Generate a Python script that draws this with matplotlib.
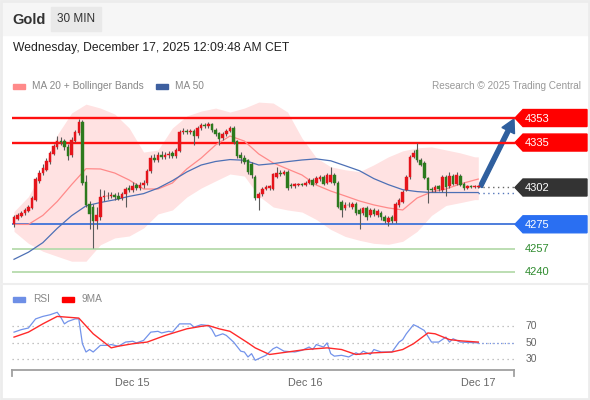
import matplotlib
matplotlib.use("Agg")
import matplotlib.pyplot as plt
from matplotlib.patches import Rectangle, Polygon, FancyArrow

plt.rcParams['font.family'] = ['Liberation Sans', 'DejaVu Sans']

# ---------------- data ----------------
title = "Gold"
timeframe = "30 MIN"
timestamp = "Wednesday, December 17, 2025 12:09:48 AM CET"

opens = [
    4275, 4279, 4281, 4283, 4285, 4287, 4293, 4307, 4312.5, 4315,
    4320.5, 4326.5, 4331.5, 4336.5, 4336, 4332, 4326, 4336.5, 4342, 4350,
    4306, 4290, 4288, 4277.5, 4280, 4295, 4295.5, 4296, 4296.5, 4296,
    4294, 4297, 4301.5, 4300.5, 4303.5, 4302, 4303.5, 4305, 4314, 4324,
    4322, 4326, 4324.5, 4325.5, 4327, 4325, 4329, 4342.5, 4343.5, 4342.5,
    4343.5, 4340, 4345.5, 4348, 4347.2, 4348.5, 4344.5, 4342, 4338, 4341,
    4343.5, 4345.5, 4336, 4326, 4324, 4322, 4319, 4310, 4294.6, 4297,
    4301, 4302, 4301, 4310, 4313, 4312, 4313.6, 4304, 4303, 4304,
    4304.5, 4304, 4305.5, 4307.7, 4305.5, 4308, 4310, 4305.5, 4306, 4311.4,
    4305.5, 4291, 4286.6, 4289.5, 4288, 4290, 4285.8, 4283.6, 4287.3, 4281.5,
    4285.8, 4281.5, 4283.6, 4280.7, 4276.4, 4280, 4277.1, 4288.8, 4291.7, 4300.4,
    4309.9, 4324.5, 4329.6, 4322.3, 4320.1, 4309.2, 4301.2, 4300.4, 4303, 4300.4,
    4309.9, 4303.4, 4310.7, 4304.8, 4310.7, 4304.8, 4302, 4302.8, 4302.2, 4302.6,
]
highs = [
    4282, 4283, 4285, 4287, 4289.5, 4295.5, 4310, 4315, 4319, 4323.5,
    4329, 4334, 4340, 4339, 4337.5, 4334, 4339, 4344.5, 4352, 4351.5,
    4311, 4292, 4290, 4288, 4301, 4300.5, 4299, 4299, 4298, 4299,
    4299, 4302.5, 4304, 4306, 4305, 4306, 4307.5, 4315.5, 4325.5, 4326.5,
    4328, 4328.5, 4328, 4329, 4329, 4331, 4344, 4345.5, 4345, 4345,
    4345, 4347, 4349.5, 4349.5, 4350, 4349.5, 4346, 4343, 4342.5, 4345,
    4347, 4347, 4337, 4328, 4325.5, 4323, 4321, 4311.5, 4299, 4302.5,
    4304, 4304, 4313, 4317.2, 4314.5, 4315, 4314.5, 4305, 4305.5, 4305.5,
    4305.5, 4306.5, 4309, 4309, 4310.5, 4311, 4311, 4312.5, 4317.2, 4313,
    4306.5, 4292.5, 4291, 4291, 4291.5, 4291, 4287, 4288, 4288.5, 4287,
    4287, 4286, 4285, 4282, 4281, 4281.5, 4291.5, 4294.5, 4300.5, 4311,
    4325.5, 4329.6, 4334.8, 4323.5, 4321.5, 4310, 4302.5, 4304, 4304, 4311.5,
    4311, 4313.6, 4312, 4313.6, 4312, 4306, 4304, 4303.5, 4303.5, 4303.5,
]
lows = [
    4273, 4278, 4280, 4282, 4284, 4286, 4292, 4305.5, 4311, 4314,
    4319, 4325.5, 4330, 4333, 4329.5, 4322, 4324.5, 4335.5, 4340.5, 4303.5,
    4287.5, 4271.2, 4257.4, 4271.2, 4278.5, 4292, 4293.5, 4294, 4293, 4292.5,
    4292.5, 4288, 4298.5, 4299, 4300, 4300.5, 4302, 4304, 4313, 4320.5,
    4320.5, 4323, 4323, 4324, 4323.5, 4324, 4328, 4341, 4341, 4341,
    4333.3, 4338.5, 4344.5, 4345.5, 4346, 4343, 4340, 4333.3, 4337, 4340,
    4342.5, 4334, 4324, 4320, 4319, 4312, 4309, 4293.1, 4285.8, 4296,
    4300, 4300.5, 4300, 4309, 4310.5, 4311, 4300.5, 4301.5, 4302, 4303,
    4303, 4303, 4304.5, 4303, 4304.5, 4306.5, 4303.5, 4304.5, 4305, 4304,
    4287, 4280.7, 4285.5, 4287.5, 4286.5, 4282, 4271.2, 4282, 4278.5, 4280,
    4281, 4280, 4278.5, 4275.6, 4273.4, 4275.6, 4276, 4287.5, 4290.5, 4299.5,
    4308.5, 4323.5, 4321, 4317.5, 4308, 4290.9, 4299, 4299, 4299.5, 4299,
    4296.1, 4302, 4303.5, 4303.5, 4303, 4300.5, 4301, 4301.5, 4301.5, 4301.8,
]
closes = [
    4280, 4281.5, 4283, 4285.5, 4287.5, 4294, 4308.5, 4313, 4316.5, 4321.5,
    4327.5, 4332.5, 4336.2, 4335.5, 4331.8, 4325.3, 4337, 4342.8, 4350, 4305,
    4289.5, 4282.2, 4277.1, 4281.5, 4295.3, 4296, 4296.1, 4296.6, 4295.3, 4293.9,
    4297.5, 4301.2, 4300.4, 4303.4, 4301.9, 4304.1, 4305.5, 4314.3, 4323.8, 4322.3,
    4326, 4324.5, 4326, 4326.7, 4325.3, 4329.6, 4342.8, 4343.5, 4342.8, 4343.5,
    4339.9, 4345.7, 4347.9, 4347.2, 4348.6, 4344.2, 4341.3, 4337.7, 4341.3, 4343.5,
    4345.7, 4335.5, 4325.3, 4323.8, 4320.9, 4313.6, 4311.4, 4294.6, 4297.5, 4301.2,
    4302.6, 4302.8, 4312.1, 4312.9, 4312, 4313.6, 4301.9, 4303.2, 4304.4, 4304.5,
    4304, 4305.5, 4307.7, 4304.1, 4309.2, 4309.9, 4304.8, 4311.4, 4311.4, 4305.5,
    4288, 4285.8, 4289.5, 4289, 4290.2, 4283.6, 4282.9, 4286.6, 4280, 4285.8,
    4282.2, 4284.4, 4280, 4277.1, 4279.3, 4277.1, 4290.2, 4293.1, 4299, 4309.9,
    4324.5, 4327.4, 4322.3, 4318.7, 4309.2, 4300.4, 4300.4, 4302.6, 4301.2, 4309.9,
    4302.6, 4310.7, 4304.8, 4311.4, 4304.1, 4301.9, 4302.8, 4302.2, 4302.8, 4302.6,
]

# indicator readings (candle index -> value)
ind_idx = [0, 4, 8, 12, 16, 20, 24, 28, 32, 36, 40, 44, 48, 52, 56, 60, 64,
           68, 72, 76, 80, 84, 88, 92, 96, 100, 104, 108, 112, 116, 120, 124, 128, 129]
ma20 = [4274.9, 4274.9, 4281.5, 4291.7, 4304.1, 4315.8, 4315.6, 4312.6, 4307.5, 4300.9,
        4300.9, 4305.3, 4315.6, 4323.6, 4333.2, 4339.8, 4336.1, 4326.6, 4320.0, 4315.6,
        4311.2, 4303.8, 4299.4, 4295.8, 4292.1, 4289.2, 4287.0, 4285.5, 4294.3, 4298.7,
        4300.9, 4304.6, 4307.5, 4308.2]
ma50 = [4249.3, 4254.5, 4261.5, 4272.0, 4281.3, 4288.5, 4291.0, 4293.0, 4295.5, 4297.5,
        4301.5, 4307.0, 4313.4, 4318.5, 4321.1, 4322.5, 4322.0, 4318.5, 4319.5, 4321.0,
        4322.2, 4323.0, 4321.6, 4318.0, 4314.3, 4308.5, 4304.1, 4300.4, 4299.0, 4298.3,
        4298.3, 4298.3, 4298.3, 4298.3]
bb_upper = [4284.4, 4295.3, 4315.0, 4340.6, 4356.7, 4363.2, 4360.3, 4355.9, 4345.7, 4328.0,
            4329.5, 4345.7, 4354.5, 4358.1, 4360.3, 4357.4, 4360.3, 4364.7, 4364.0, 4357.4,
            4338.3, 4323.8, 4317.2, 4315.0, 4313.6, 4318.7, 4324.5, 4328.9, 4331.1, 4331.8,
            4329.6, 4327.4, 4324.5, 4324.5]
bb_lower = [4269.8, 4261.0, 4255.2, 4251.5, 4247.9, 4247.9, 4260.0, 4265.0, 4266.4, 4272.3,
            4282.6, 4285.5, 4295.0, 4301.6, 4306.8, 4311.9, 4310.4, 4295.8, 4287.7, 4285.5,
            4284.0, 4278.5, 4271.2, 4266.1, 4263.2, 4261.0, 4260.3, 4262.5, 4269.8, 4281.5,
            4288.8, 4290.9, 4293.1, 4293.1]

# key levels
resistances = [4353, 4335]
last_price = 4302
pivot = 4275
supports = [4257, 4240]

# RSI panel
rsi_idx = [0, 2, 4, 6, 8, 10, 12, 13, 14, 15, 17, 18, 19, 20, 21, 22, 24, 26, 27, 29,
           31, 33, 34, 36, 38, 40, 41, 43, 44, 46, 49, 50, 52, 54, 55, 56, 58, 59, 61, 63,
           64, 65, 66, 67, 68, 70, 72, 73, 75, 78, 80, 82, 83, 84, 86, 87, 88, 89, 91, 93,
           95, 96, 97, 99, 100, 102, 105, 107, 108, 109, 111, 112, 114, 116, 118, 120, 121, 122, 124, 129]
rsi_val = [63, 66, 68, 79, 82, 84, 87, 81, 73, 76, 79, 79, 49, 39, 42, 39, 47, 47, 48, 46,
           51, 52, 50, 53, 63, 64, 62, 64, 63, 73, 73, 69, 72, 71, 66, 58, 61, 59, 51, 40,
           39, 33, 37, 29, 31, 35, 43, 45, 40, 39, 41, 45, 42, 48, 45, 50, 37, 34, 35, 33,
           38, 36, 40, 36, 42, 39, 39, 51, 54, 61, 72, 70, 65, 51, 51, 57, 51, 55, 51, 50]
ma9_idx = [0, 4, 8, 12, 18, 22, 27, 29, 33, 37, 42, 48, 52, 54, 57, 60, 65, 67, 71, 76,
           81, 87, 91, 95, 100, 105, 108, 111, 115, 117, 121, 124, 129]
ma9_val = [57, 63, 73, 82, 80, 61, 44, 46, 49, 51, 59, 67, 70, 71, 67, 64, 50, 44, 36, 39,
           42, 44, 42, 36, 38, 39, 42, 49, 62, 61, 54, 52.5, 51]
rsi_levels = [70, 50, 30]

date_labels = ["Dec 15", "Dec 16", "Dec 17"]
date_idx = [33, 81, 129]

# ---------------- figure ----------------
W, H = 590, 400
fig = plt.figure(figsize=(W / 100, H / 100), dpi=100)
fig.patch.set_facecolor("white")

ov = fig.add_axes([0, 0, 1, 1], zorder=0)
ov.set_xlim(0, W)
ov.set_ylim(H, 0)
ov.axis("off")

L, R = 12, 515
ax = fig.add_axes([L / W, 1 - 280 / H, (R - L) / W, 185 / H], zorder=2)
ax.set_facecolor("none")
ax.set_xlim(-0.56, 139.2)
ax.set_ylim(4234.1, 4369.9)
ax.axis("off")

rx = fig.add_axes([L / W, 1 - 370 / H, (R - L) / W, 65 / H], zorder=2)
rx.set_facecolor("none")
rx.set_xlim(-0.56, 139.2)
rx.set_ylim(17.25, 95.8)
rx.axis("off")

n = len(closes)
idx = list(range(n))
last_i = idx[-1]


def py(p):
    return H - ax.transData.transform((0, p))[1]


def px(i):
    return ax.transData.transform((i, 4300))[0]


def ry(v):
    return H - rx.transData.transform((0, v))[1]


# header / frame
ov.add_patch(Rectangle((0, 0), W, 35, color="#f6f6f6", zorder=0))
ov.add_patch(Rectangle((51, 7), 50, 24, color="#e9e9e9", zorder=1))
ov.text(12, 19.5, title, fontsize=10.5, fontweight="bold", color="#333333", va="center", ha="left")
ov.text(76, 19.5, timeframe, fontsize=8.5, color="#333333", va="center", ha="center")
ov.text(13, 48, timestamp, fontsize=8.7, color="#222222", va="center", ha="left")
ov.plot([0, W], [284, 284], color="#eeeeee", lw=1.5)
ov.add_patch(Rectangle((1, 1), W - 2, H - 2, fill=False, ec="#ececec", lw=2))

# legend main
ov.add_patch(Rectangle((13, 83.5), 12, 5, color="#ff8a8a"))
ov.text(32, 86, "MA 20 + Bollinger Bands", fontsize=7.3, color="#888888", va="center")
ov.add_patch(Rectangle((156, 83.5), 12, 5, color="#3d5f9f"))
ov.text(175, 86, "MA 50", fontsize=7.3, color="#888888", va="center")
ov.text(581, 86, "Research \u00a9 2025 Trading Central", fontsize=7.2, color="#999999",
        va="center", ha="right")

# Bollinger band + MAs
ax.fill_between(ind_idx, bb_lower, bb_upper, color="#ffe2e2", lw=0, zorder=1)
ax.plot(ind_idx, ma20, color="#ff8a8a", lw=0.9, zorder=3)
ax.plot(ind_idx, ma50, color="#4d70b5", lw=0.9, zorder=3)

# level lines
for lv in resistances:
    ax.axhline(lv, color="#ff1010", lw=1.7, zorder=2)
ax.axhline(pivot, color="#3f73d9", lw=1.3, zorder=2)
for lv in supports:
    ax.axhline(lv, color="#b6dbad", lw=1.3, zorder=2)

# candles
up_c, dn_c = "#e5141b", "#2c7a1d"
for i in idx:
    o, h, l, c = opens[i], highs[i], lows[i], closes[i]
    col = up_c if c >= o else dn_c
    ax.vlines(i, l, h, color="#5a5a5a", lw=0.8, zorder=4)
    bot = min(o, c)
    ht = max(abs(c - o), 0.45)
    ax.bar(i, ht, bottom=bot, width=0.72, color=col, edgecolor=col, lw=0.3, zorder=5)

# dotted extensions
ax.plot([last_i, 139.2], [closes[-1], closes[-1]], color="#666666", lw=1,
        ls=(0, (1, 2.5)), zorder=3)
ax.plot([last_i, 139.2], [ma50[-1], ma50[-1]], color="#5577bb", lw=1,
        ls=(0, (1, 2.5)), zorder=3)

# arrow
x0, y0 = px(last_i) + 2, py(closes[-1])
x1, y1 = 514, py(resistances[0]) + 1
ov.add_patch(FancyArrow(x0, y0, x1 - x0, y1 - y0, width=4.2, head_width=14,
                        head_length=13, length_includes_head=True,
                        color="#2f5f9e", zorder=6))


# price tags
def tag(price, color, label):
    y = py(price)
    pts = [(515, y), (523, y - 8.5), (587, y - 8.5), (587, y + 8.5), (523, y + 8.5)]
    ov.add_patch(Polygon(pts, closed=True, color=color, zorder=5))
    ov.text(525, y + 0.5, label, fontsize=8, color="white", va="center", ha="left", zorder=6)


for lv in resistances:
    tag(lv, "#ff0000", str(lv))
tag(last_price, "#333333", str(last_price))
tag(pivot, "#2a6ff2", str(pivot))
for lv in supports:
    ov.text(525, py(lv) + 0.5, str(lv), fontsize=8, color="#2e8b2e", va="center", ha="left")

# RSI legend
ov.add_patch(Rectangle((13, 296.5), 12, 5, color="#6e8fe6"))
ov.text(33, 299, "RSI", fontsize=7.3, color="#888888", va="center")
ov.add_patch(Rectangle((62, 296.5), 12, 5, color="#ff0000"))
ov.text(82, 299, "9MA", fontsize=7.3, color="#888888", va="center")

# RSI panel
for lv in rsi_levels:
    rx.plot([-0.56, 139.2], [lv, lv], color="#b0b0b0", lw=0.9, ls=(0, (1, 3)), zorder=1)
    ov.text(531, ry(lv), str(lv), fontsize=7.5, color="#666666", va="center", ha="center")
rx.plot(rsi_idx, rsi_val, color="#7393ea", lw=0.9, zorder=3)
rx.plot(ma9_idx, ma9_val, color="#ff2a2a", lw=1.0, zorder=4)
rx.plot([rsi_idx[-1], 139.2], [rsi_val[-1], rsi_val[-1]], color="#7393ea", lw=0.9,
        ls=(0, (1, 2)), zorder=3)

# time axis
ov.plot([12, 514], [370, 370], color="#a0a0a0", lw=1.3)
ov.plot([12, 12], [370, 376], color="#a0a0a0", lw=1.3)
ov.plot([514, 514], [370, 376], color="#a0a0a0", lw=1.3)
for lab, di in zip(date_labels, date_idx):
    ov.text(px(di), 383, lab, fontsize=7.8, color="#666666", va="center", ha="center")

fig.savefig("out.png", dpi=100)
